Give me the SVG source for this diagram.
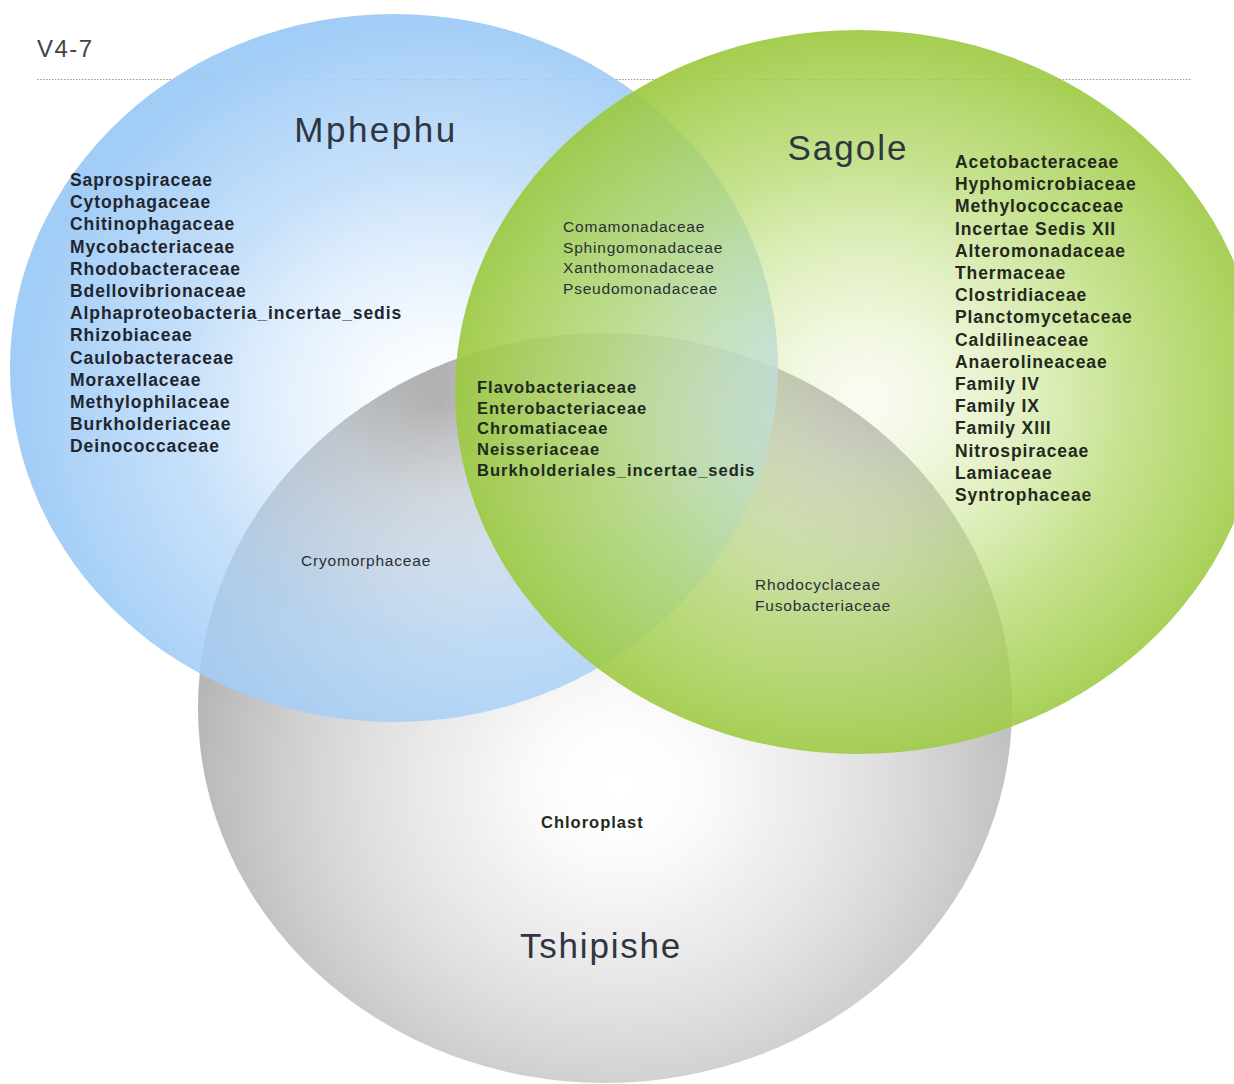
<svg xmlns="http://www.w3.org/2000/svg" width="1234" height="1084" viewBox="0 0 1234 1084">
<style>
.t{font-family:"Liberation Sans",Arial,sans-serif;}
.title{font-size:35px;fill:#2f3640;}
.lb{font-size:17.5px;font-weight:bold;fill:#1f2630;letter-spacing:0.9px;}
.lr{font-size:15.5px;fill:#2a2f35;letter-spacing:0.8px;}
.cb{font-size:16.5px;font-weight:bold;fill:#1e2a1e;letter-spacing:1px;}
</style>
<defs>
<radialGradient id="gBlue" cx="0.56" cy="0.55" r="0.55">
<stop offset="0" stop-color="#eef6ff" stop-opacity="0"/>
<stop offset="0.25" stop-color="#d8eafc" stop-opacity="0.42"/>
<stop offset="0.6" stop-color="#b4d6f8" stop-opacity="0.74"/>
<stop offset="1" stop-color="#9ccaf6" stop-opacity="0.95"/>
</radialGradient>
<radialGradient id="gGreen" cx="0.51" cy="0.51" r="0.55">
<stop offset="0" stop-color="#eef6d8" stop-opacity="0.3"/>
<stop offset="0.25" stop-color="#d6eaa8" stop-opacity="0.5"/>
<stop offset="0.6" stop-color="#b2d868" stop-opacity="0.75"/>
<stop offset="1" stop-color="#97c637" stop-opacity="0.95"/>
</radialGradient>
<radialGradient id="gGray" cx="0.52" cy="0.6" r="0.6">
<stop offset="0" stop-color="#ffffff" stop-opacity="0"/>
<stop offset="0.3" stop-color="#e2e2e2" stop-opacity="0.5"/>
<stop offset="0.7" stop-color="#c2c2c2" stop-opacity="0.82"/>
<stop offset="1" stop-color="#a2a2a2" stop-opacity="0.96"/>
</radialGradient>
</defs>
<rect width="1234" height="1084" fill="#ffffff"/>
<text class="t" x="37" y="57" font-size="24" fill="#444" letter-spacing="1.5">V4-7</text>
<line x1="37" y1="79.5" x2="1192" y2="79.5" stroke="#9a9a9a" stroke-width="1" stroke-dasharray="1.5 1.5"/>

<g id="node-tshipishe">
<ellipse cx="605" cy="708" rx="407" ry="375" fill="url(#gGray)"/>
<text class="t title" x="601" y="958" text-anchor="middle" letter-spacing="1.8">Tshipishe</text>
<text class="t cb" x="541" y="828">Chloroplast</text>
</g>

<g id="node-mphephu">
<ellipse cx="394" cy="368" rx="384" ry="354" fill="url(#gBlue)"/>
<text class="t title" x="376" y="142" text-anchor="middle" letter-spacing="2.5">Mphephu</text>
<g class="t lb">
<text x="70" y="186">Saprospiraceae</text>
<text x="70" y="208.2">Cytophagaceae</text>
<text x="70" y="230.4">Chitinophagaceae</text>
<text x="70" y="252.6">Mycobacteriaceae</text>
<text x="70" y="274.8">Rhodobacteraceae</text>
<text x="70" y="297">Bdellovibrionaceae</text>
<text x="70" y="319.2">Alphaproteobacteria_incertae_sedis</text>
<text x="70" y="341.4">Rhizobiaceae</text>
<text x="70" y="363.6">Caulobacteraceae</text>
<text x="70" y="385.8">Moraxellaceae</text>
<text x="70" y="408">Methylophilaceae</text>
<text x="70" y="430.2">Burkholderiaceae</text>
<text x="70" y="452.4">Deinococcaceae</text>
</g>
</g>

<g id="node-sagole">
<ellipse cx="858" cy="392" rx="403" ry="362" fill="url(#gGreen)"/>
<text class="t title" x="848" y="160" text-anchor="middle" letter-spacing="2">Sagole</text>
<g class="t lb" style="fill:#24281c">
<text x="955" y="168">Acetobacteraceae</text>
<text x="955" y="190.2">Hyphomicrobiaceae</text>
<text x="955" y="212.4">Methylococcaceae</text>
<text x="955" y="234.6">Incertae Sedis XII</text>
<text x="955" y="256.8">Alteromonadaceae</text>
<text x="955" y="279">Thermaceae</text>
<text x="955" y="301.2">Clostridiaceae</text>
<text x="955" y="323.4">Planctomycetaceae</text>
<text x="955" y="345.6">Caldilineaceae</text>
<text x="955" y="367.8">Anaerolineaceae</text>
<text x="955" y="390">Family IV</text>
<text x="955" y="412.2">Family IX</text>
<text x="955" y="434.4">Family XIII</text>
<text x="955" y="456.6">Nitrospiraceae</text>
<text x="955" y="478.8">Lamiaceae</text>
<text x="955" y="501">Syntrophaceae</text>
</g>
</g>

<g id="node-mphephu-sagole">
<g class="t lr">
<text x="563" y="232">Comamonadaceae</text>
<text x="563" y="252.7">Sphingomonadaceae</text>
<text x="563" y="273.4">Xanthomonadaceae</text>
<text x="563" y="294.1">Pseudomonadaceae</text>
</g>
</g>

<g id="node-all-three">
<g class="t cb">
<text x="477" y="393">Flavobacteriaceae</text>
<text x="477" y="413.7">Enterobacteriaceae</text>
<text x="477" y="434.4">Chromatiaceae</text>
<text x="477" y="455.1">Neisseriaceae</text>
<text x="477" y="475.8">Burkholderiales_incertae_sedis</text>
</g>
</g>

<g id="node-mphephu-tshipishe">
<text class="t lr" x="301" y="566">Cryomorphaceae</text>
</g>

<g id="node-sagole-tshipishe">
<g class="t lr">
<text x="755" y="590">Rhodocyclaceae</text>
<text x="755" y="610.7">Fusobacteriaceae</text>
</g>
</g>

<g id="connectors"></g>
</svg>
